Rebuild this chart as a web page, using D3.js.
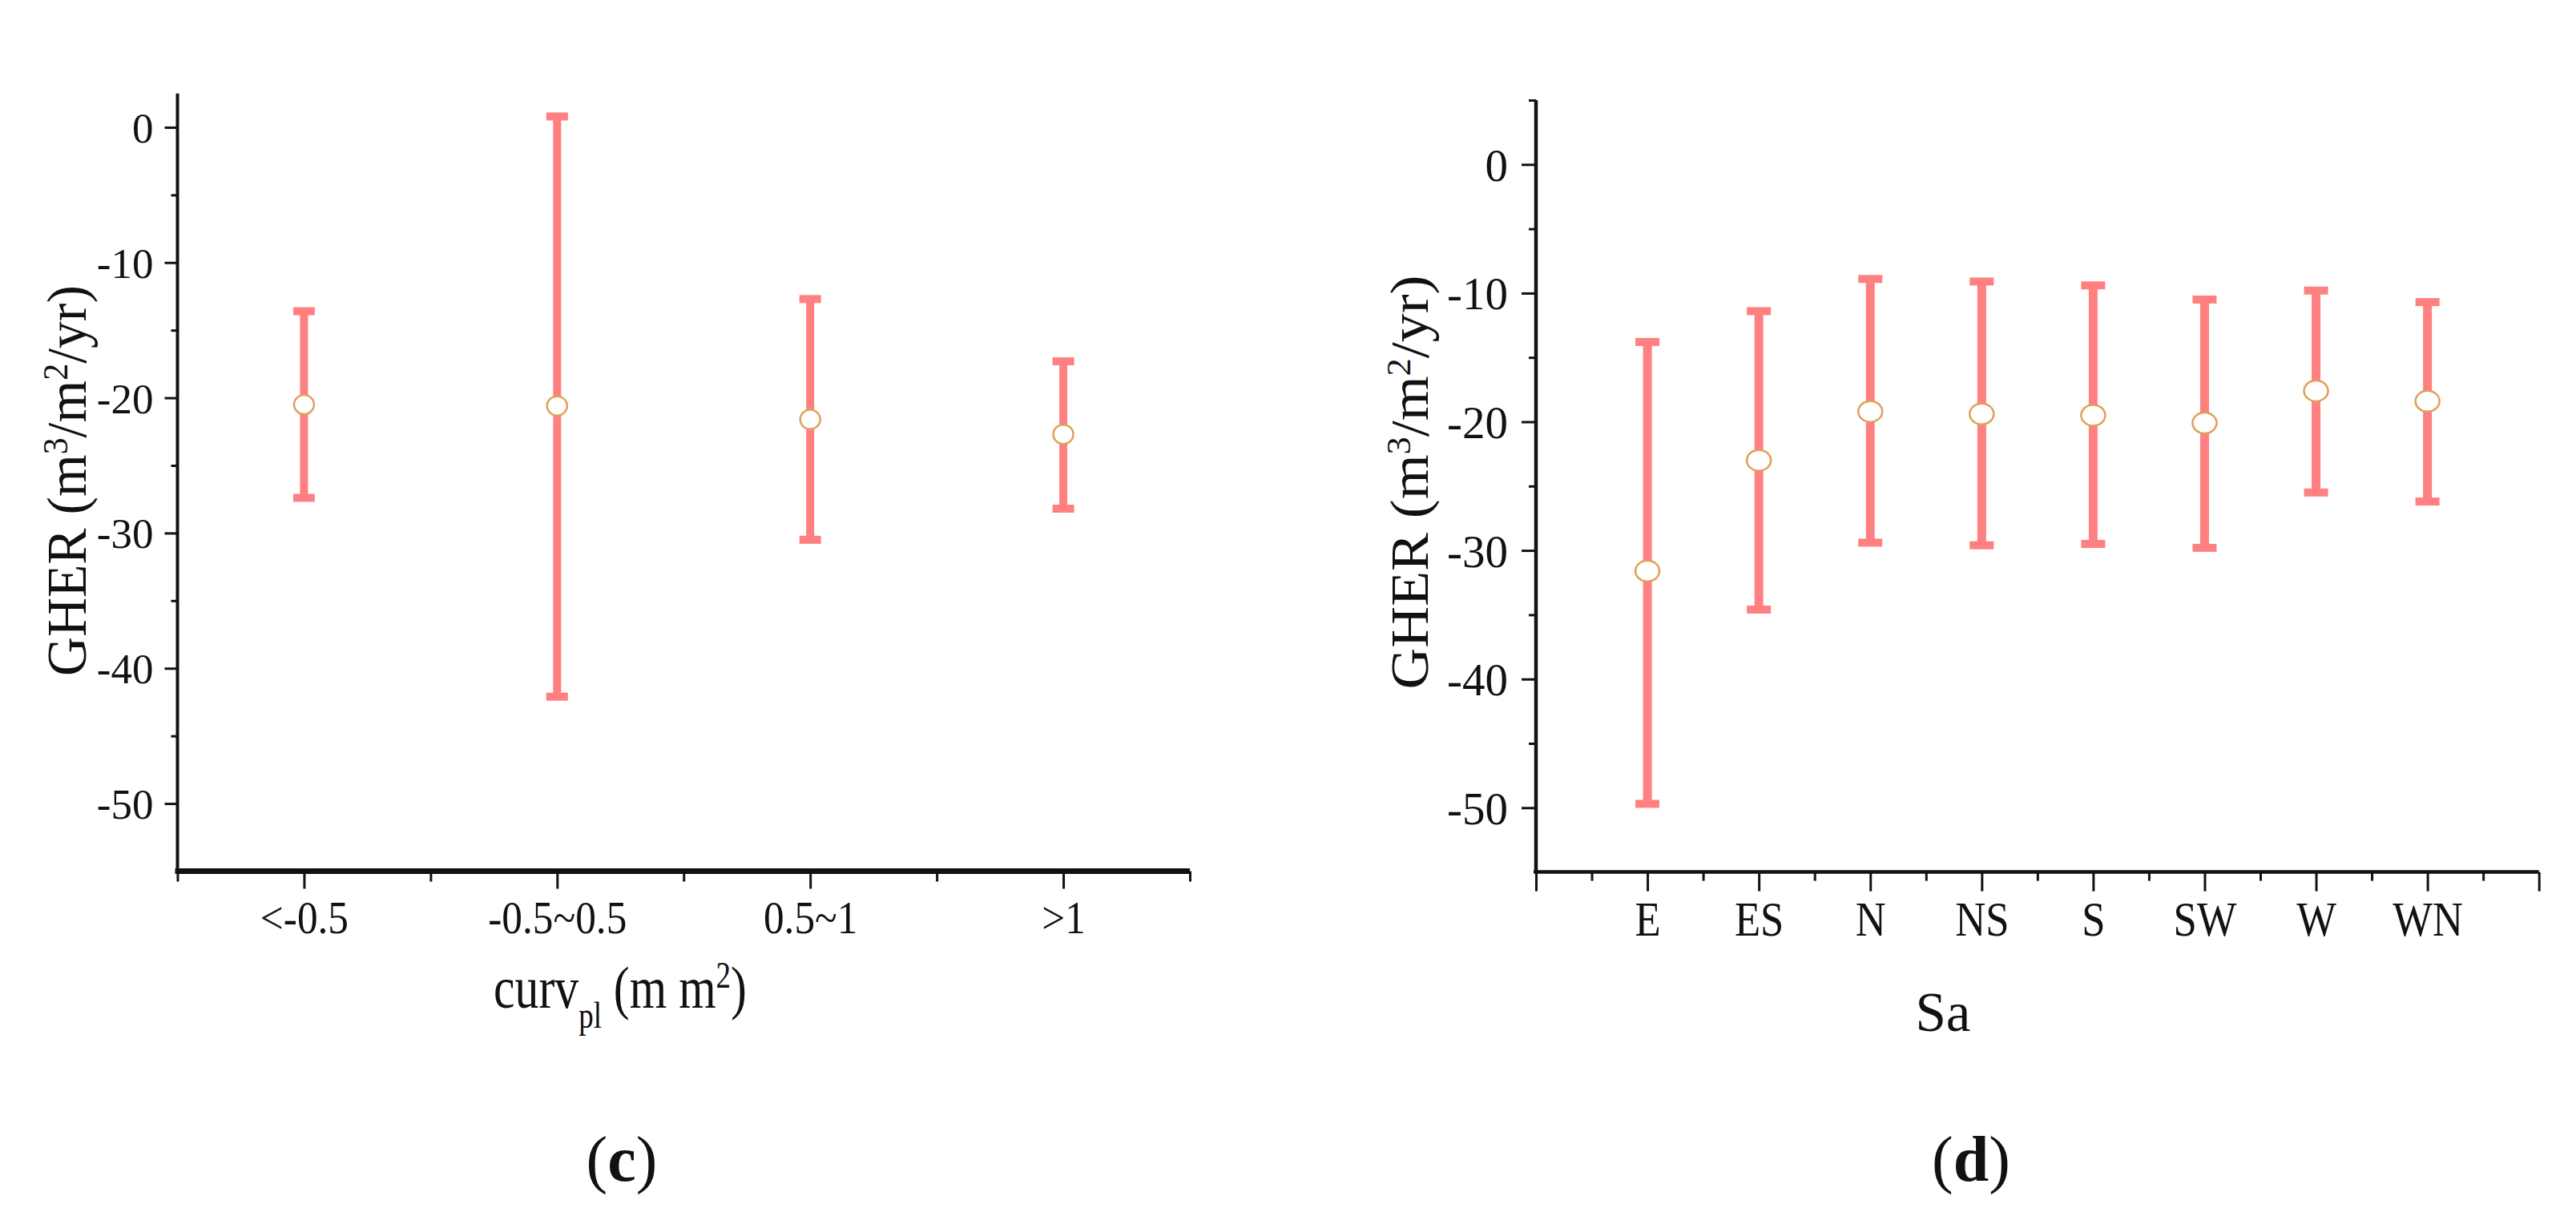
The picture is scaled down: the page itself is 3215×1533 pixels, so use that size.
<!DOCTYPE html>
<html>
<head>
<meta charset="utf-8">
<script src="https://cdn.jsdelivr.net/npm/d3@7"></script>
<style>
  html, body { margin: 0; padding: 0; background: #ffffff; }
  svg text { font-family: "Liberation Serif", "Times New Roman", serif; fill: #111; }
</style>
</head>
<body>
<svg id="chart" width="3215" height="1533"></svg>
<script>
// ---------- Data ----------
const curvCats  = ["<-0.5", "-0.5~0.5", "0.5~1", ">1"];
const curvMean  = [-20.5, -20.6, -21.6, -22.7];
const curvUpper = [-13.6, 0.8, -12.7, -17.3];
const curvLower = [-27.4, -42.1, -30.5, -28.2];

const saCats  = ["E", "ES", "N", "NS", "S", "SW", "W", "WN"];
const saMean  = [-31.6, -23.0, -19.2, -19.4, -19.5, -20.1, -17.6, -18.4];
const saUpper = [-13.8, -11.4, -8.9, -9.1, -9.4, -10.5, -9.8, -10.7];
const saLower = [-49.7, -34.6, -29.4, -29.6, -29.5, -29.8, -25.5, -26.2];

const yMajorTicks = [0, -10, -20, -30, -40, -50];
const yMinorTicksC = [-5, -15, -25, -35, -45];
const yMinorTicksD = [5, -5, -15, -25, -35, -45];

// ---------- Styling ----------
const barColor = "#ff8080";
const markerStroke = "#e0a058";

const svg = d3.select("#chart");

function fitWidth(textSel, target, sy) {
  const w = textSel.node().getBBox().width;
  textSel.attr("transform", `scale(${target / w},${sy || 1})`);
}

function panel(cfg) {
  const g = svg.append("g");
  const y = d3.scaleLinear().domain(cfg.yDomain).range(cfg.yRange);
  const x = d3.scaleLinear().domain([0, cfg.xMax]).range(cfg.xRange);
  const yAxisX = cfg.xRange[0];
  const xAxisY = cfg.yRange[0];

  // y axis minor ticks
  const yMinor = g.append("g").attr("transform", `translate(${yAxisX},0)`)
    .call(d3.axisLeft(y).tickValues(cfg.yMinor).tickSize(cfg.yMinorLen).tickFormat(""));
  yMinor.select(".domain").remove();
  yMinor.selectAll(".tick line").attr("stroke", "#111").attr("stroke-width", 3);

  // y axis major ticks + labels
  const yMaj = g.append("g").attr("transform", `translate(${yAxisX},0)`)
    .call(d3.axisLeft(y).tickValues(yMajorTicks).tickSize(cfg.yMajorLen).tickSizeOuter(0).tickFormat(d3.format("d")));
  yMaj.select(".domain").attr("stroke", "#111").attr("stroke-width", cfg.yAxisW)
    .attr("d", `M0,${cfg.yRange[0]}V${cfg.yRange[1]}`);
  yMaj.selectAll(".tick line").attr("stroke", "#111").attr("stroke-width", 3);
  yMaj.selectAll(".tick text")
    .attr("x", -cfg.yLabelGap).attr("dy", "0.35em")
    .style("font-size", cfg.yTickFont + "px").style("fill", "#111")
    .text(d => d === 0 ? "0" : "-" + Math.abs(d));

  // x axis minor ticks
  const xMinorVals = d3.range(0, cfg.xMax + 0.001, cfg.xMinorStep).filter(v => !cfg.xMajorVals.some(m => Math.abs(m - v) < 1e-6));
  const xMinor = g.append("g").attr("transform", `translate(0,${xAxisY})`)
    .call(d3.axisBottom(x).tickValues(xMinorVals).tickSize(cfg.xMinorLen).tickFormat(""));
  xMinor.select(".domain").remove();
  xMinor.selectAll(".tick line").attr("stroke", "#111").attr("stroke-width", 3);

  // x axis major ticks (labels only for categories)
  const xMaj = g.append("g").attr("transform", `translate(0,${xAxisY})`)
    .call(d3.axisBottom(x).tickValues(cfg.xMajorVals).tickSize(cfg.xMajorLen).tickSizeOuter(0)
      .tickFormat(v => { const i = cfg.catIndex(v); return i >= 0 && i < cfg.cats.length ? cfg.cats[i] : ""; }));
  xMaj.select(".domain").attr("stroke", "#111").attr("stroke-width", cfg.xAxisW)
    .attr("d", `M${cfg.xRange[0] - 3},0H${cfg.xRange[1]}`);
  xMaj.selectAll(".tick line").attr("stroke", "#111").attr("stroke-width", 3);
  xMaj.selectAll(".tick text")
    .attr("y", cfg.xLabelBase).attr("dy", 0)
    .style("font-size", cfg.xTickFont + "px").style("fill", "#111")
    .attr("transform", `scale(${cfg.xTickSX},1)`);

  // error bars
  const pts = cfg.cats.map((c, i) => ({ c, i, m: cfg.mean[i], lo: cfg.lower[i], hi: cfg.upper[i] }));
  const bars = g.append("g");
  bars.selectAll("line.stem").data(pts).join("line")
    .attr("x1", d => x(cfg.catPos(d.i))).attr("x2", d => x(cfg.catPos(d.i)))
    .attr("y1", d => y(d.hi)).attr("y2", d => y(d.lo))
    .attr("stroke", barColor).attr("stroke-width", cfg.stemW);
  bars.selectAll("line.capTop").data(pts).join("line")
    .attr("x1", d => x(cfg.catPos(d.i)) - cfg.capW / 2).attr("x2", d => x(cfg.catPos(d.i)) + cfg.capW / 2)
    .attr("y1", d => y(d.hi)).attr("y2", d => y(d.hi))
    .attr("stroke", barColor).attr("stroke-width", cfg.capT);
  bars.selectAll("line.capBot").data(pts).join("line")
    .attr("x1", d => x(cfg.catPos(d.i)) - cfg.capW / 2).attr("x2", d => x(cfg.catPos(d.i)) + cfg.capW / 2)
    .attr("y1", d => y(d.lo)).attr("y2", d => y(d.lo))
    .attr("stroke", barColor).attr("stroke-width", cfg.capT);
  bars.selectAll("ellipse").data(pts).join("ellipse")
    .attr("cx", d => x(cfg.catPos(d.i))).attr("cy", d => y(d.m))
    .attr("rx", cfg.rx).attr("ry", cfg.ry)
    .attr("fill", "#ffffff").attr("stroke", markerStroke).attr("stroke-width", 2.5);

  // y title
  const yt = g.append("g").attr("transform", `translate(${cfg.yTitleX},${cfg.yTitleY}) rotate(-90)`)
    .append("text").attr("text-anchor", "middle").style("font-size", cfg.yTitleFont + "px");
  yt.append("tspan").text("GHER (m");
  yt.append("tspan").attr("baseline-shift", "super").style("font-size", "0.62em").text("3");
  yt.append("tspan").text("/m");
  yt.append("tspan").attr("baseline-shift", "super").style("font-size", "0.62em").text("2");
  yt.append("tspan").text("/yr)");
  fitWidth(yt, cfg.yTitleLen);

  // x title
  const xtG = g.append("g").attr("transform", `translate(${cfg.xTitleX},${cfg.xTitleY})`);
  const xt = xtG.append("text").attr("text-anchor", "middle").style("font-size", cfg.xTitleFont + "px");
  cfg.xTitle(xt);
  if (cfg.xTitleLen) fitWidth(xt, cfg.xTitleLen);

  // panel label
  const pl = svg.append("text").attr("x", cfg.panelX).attr("y", 1474)
    .attr("text-anchor", "middle").style("font-size", "80px");
  pl.append("tspan").text("(");
  pl.append("tspan").style("font-weight", "bold").text(cfg.panelLetter);
  pl.append("tspan").text(")");
}

// Panel (c)
panel({
  cats: curvCats, mean: curvMean, upper: curvUpper, lower: curvLower,
  yDomain: [-55, 2.5], yRange: [1087.5, 116.7],
  xMax: 4, xRange: [221.5, 1485],
  xMajorVals: [0.5, 1.5, 2.5, 3.5], xMinorStep: 1,
  catIndex: v => Math.round(v - 0.5), catPos: i => i + 0.5,
  yMinor: yMinorTicksC, yMinorLen: 8, yMajorLen: 16, yAxisW: 4, xAxisW: 7,
  xMinorLen: 13, xMajorLen: 22,
  yLabelGap: 30, yTickFont: 53,
  xLabelBase: 78, xTickFont: 57, xTickSX: 0.9,
  stemW: 10, capW: 27, capT: 10, rx: 12.5, ry: 12,
  yTitleX: 107, yTitleY: 600, yTitleFont: 70, yTitleLen: 488,
  xTitleX: 774, xTitleY: 1258, xTitleFont: 74, xTitleLen: 316,
  xTitle: t => {
    t.append("tspan").text("curv");
    t.append("tspan").attr("baseline-shift", "sub").style("font-size", "0.62em").text("pl");
    t.append("tspan").text(" (m m");
    t.append("tspan").attr("baseline-shift", "super").style("font-size", "0.62em").text("2");
    t.append("tspan").text(")");
  },
  panelX: 776, panelLetter: "c"
});

// Panel (d)
panel({
  cats: saCats, mean: saMean, upper: saUpper, lower: saLower,
  yDomain: [-55, 5], yRange: [1088.6, 125],
  xMax: 9, xRange: [1917, 3168.7],
  xMajorVals: d3.range(0, 10), xMinorStep: 0.5,
  catIndex: v => Math.round(v) - 1, catPos: i => i + 1,
  yMinor: yMinorTicksD, yMinorLen: 9, yMajorLen: 18, yAxisW: 4.5, xAxisW: 4.5,
  xMinorLen: 11, xMajorLen: 24,
  yLabelGap: 35, yTickFont: 57,
  xLabelBase: 79.5, xTickFont: 62, xTickSX: 0.85,
  stemW: 11, capW: 30, capT: 10, rx: 15, ry: 13,
  yTitleX: 1782, yTitleY: 602, yTitleFont: 67, yTitleLen: 517,
  xTitleX: 2425, xTitleY: 1287, xTitleFont: 69, xTitleLen: 0,
  xTitle: t => { t.text("Sa"); },
  panelX: 2460, panelLetter: "d"
});
</script>
</body>
</html>
